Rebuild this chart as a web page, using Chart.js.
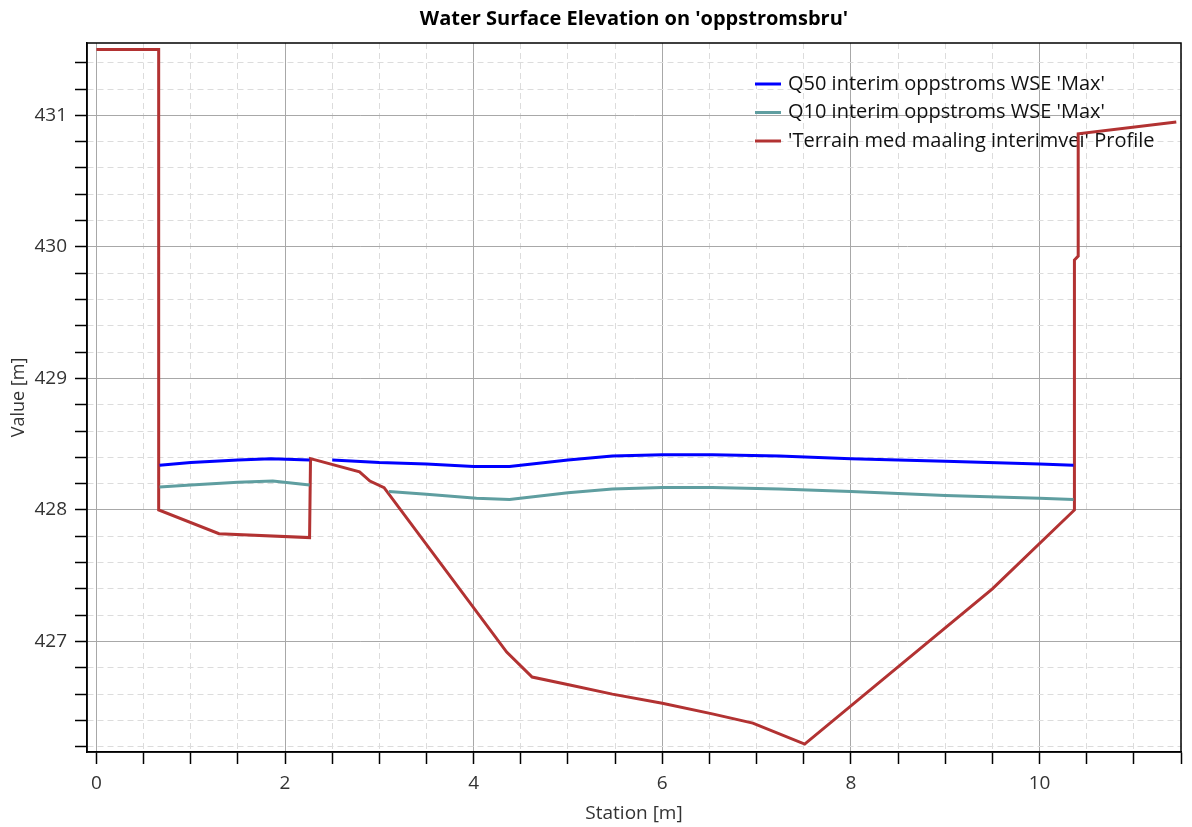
<!DOCTYPE html>
<html>
<head>
<meta charset="utf-8">
<title>Water Surface Elevation</title>
<script src="https://cdn.jsdelivr.net/npm/chart.js@4.4.0/dist/chart.umd.min.js"></script>
<style>
    html, body { margin: 0; padding: 0; background: #ffffff; }
    #wrap { width: 1192px; height: 827px; }
</style>
</head>
<body>
<div id="wrap"><canvas id="wseChart" width="1192" height="827"></canvas></div>
<script>
// Q50 water surface
const q50Station = [0.67, 1.0, 1.5, 1.85, 2.26, null, 2.5, 3.0, 3.5, 4.0, 4.38, 5.0, 5.47, 6.0, 6.53, 7.24, 8.0, 9.0, 10.0, 10.36];
const q50Value   = [428.34, 428.36, 428.38, 428.39, 428.38, null, 428.38, 428.36, 428.35, 428.33, 428.33, 428.38, 428.41, 428.42, 428.42, 428.41, 428.39, 428.37, 428.35, 428.34];

// Q10 water surface
const q10Station = [0.67, 1.0, 1.5, 1.87, 2.26, null, 3.1, 3.5, 4.03, 4.38, 5.0, 5.47, 6.0, 6.53, 7.24, 8.0, 9.0, 10.0, 10.36];
const q10Value   = [428.175, 428.19, 428.21, 428.22, 428.19, null, 428.14, 428.12, 428.09, 428.08, 428.13, 428.16, 428.17, 428.17, 428.16, 428.14, 428.11, 428.09, 428.08];

// Terrain profile
const terrainStation = [0, 0.66, 0.66, 1.3, 2.26, 2.27, 2.79, 2.9, 3.05, 4.35, 4.62, 5.02, 5.47, 6.0, 6.53, 6.96, 7.51, 9.5, 10.37, 10.37, 10.41, 10.41, 11.45];
const terrainValue   = [431.5, 431.5, 428.0, 427.82, 427.79, 428.39, 428.29, 428.22, 428.17, 426.92, 426.73, 426.67, 426.6, 426.53, 426.45, 426.38, 426.22, 427.4, 428.0, 429.9, 429.93, 430.86, 430.95];

const seriesLabels = ["Q50 interim oppstroms WSE 'Max'", "Q10 interim oppstroms WSE 'Max'", "'Terrain med maaling interimvei' Profile"];
const seriesColors = ["#0000ff", "#5f9ea0", "#b23232"];

const xTickValues = [0, 0.5, 1, 1.5, 2, 2.5, 3, 3.5, 4, 4.5, 5, 5.5, 6, 6.5, 7, 7.5, 8, 8.5, 9, 9.5, 10, 10.5, 11, 11.5];
const yTickValues = [426.2, 426.4, 426.6, 426.8, 427, 427.2, 427.4, 427.6, 427.8, 428, 428.2, 428.4, 428.6, 428.8, 429, 429.2, 429.4, 429.6, 429.8, 430, 430.2, 430.4, 430.6, 430.8, 431, 431.2, 431.4];

const FONT = "'Open Sans', 'Noto Sans', sans-serif";

function toPoints(xs, ys){
    return xs.map((x, i) => (x === null ? {x: NaN, y: null} : {x: x, y: ys[i]}));
}

function isMajorX(v){ return Math.abs(v % 2) < 1e-6; }
function isMajorY(v){ return Math.abs(v - Math.round(v)) < 1e-6; }

// frame round the plot area
const framePlugin = {
    id: "frame",
    afterDraw(chart){
        const a = chart.chartArea;
        const ctx = chart.ctx;
        ctx.save();
        ctx.strokeStyle = "#000000";
        ctx.lineWidth = 1.5;
        ctx.strokeRect(a.left, a.top, a.right - a.left, a.bottom - a.top);
        ctx.restore();
    }
};

// legend inside the plot, top right, no box
const insideLegend = {
    id: "insideLegend",
    beforeDatasetsDraw(chart){
        const a = chart.chartArea;
        const ctx = chart.ctx;
        const x0 = a.right - 426;
        let y = a.top + 41;
        ctx.save();
        ctx.font = "20px " + FONT;
        ctx.textBaseline = "middle";
        chart.data.datasets.forEach(ds => {
            ctx.strokeStyle = ds.borderColor;
            ctx.lineWidth = 3;
            ctx.beginPath();
            ctx.moveTo(x0, y);
            ctx.lineTo(x0 + 26, y);
            ctx.stroke();
            ctx.fillStyle = "#111111";
            ctx.fillText(ds.label, x0 + 33, y);
            y += 28.5;
        });
        ctx.restore();
    }
};

const ctx = document.getElementById("wseChart").getContext("2d");

new Chart(ctx, {
    type: "line",
    data: {
        datasets: [
            {
                label: seriesLabels[0],
                data: toPoints(q50Station, q50Value),
                borderColor: seriesColors[0],
                borderWidth: 3,
                pointRadius: 0,
                tension: 0,
                spanGaps: false
            },
            {
                label: seriesLabels[1],
                data: toPoints(q10Station, q10Value),
                borderColor: seriesColors[1],
                borderWidth: 3,
                pointRadius: 0,
                tension: 0,
                spanGaps: false
            },
            {
                label: seriesLabels[2],
                data: toPoints(terrainStation, terrainValue),
                borderColor: seriesColors[2],
                borderWidth: 3,
                pointRadius: 0,
                tension: 0,
                spanGaps: false
            }
        ]
    },
    options: {
        responsive: false,
        animation: false,
        parsing: false,
        layout: { padding: { left: 0, right: 11, top: 0, bottom: 0 } },
        plugins: {
            legend: { display: false },
            tooltip: { enabled: false },
            title: {
                display: true,
                fullSize: false,
                text: "Water Surface Elevation on 'oppstromsbru'",
                color: "#000000",
                font: { family: FONT, size: 20, weight: "bold", lineHeight: 1.2 },
                padding: { top: 7, bottom: 12 }
            }
        },
        scales: {
            x: {
                type: "linear",
                min: -0.1,
                max: 11.5,
                afterBuildTicks: axis => { axis.ticks = xTickValues.map(v => ({value: v})); },
                afterFit: scale => { scale.height = 75; },
                ticks: {
                    color: "#333333",
                    font: { family: FONT, size: 19 },
                    padding: 8,
                    maxRotation: 0,
                    autoSkip: false,
                    callback: v => (isMajorX(v) ? String(v) : "")
                },
                grid: {
                    color: c => (isMajorX(c.tick.value) ? "#a8a8a8" : "#dcdcdc"),
                    lineWidth: 1,
                    tickColor: "#000000",
                    tickLength: 12,
                    tickWidth: 1.5
                },
                border: {
                    color: "#000000",
                    width: 1.5,
                    dash: c => (c.tick && isMajorX(c.tick.value) ? [] : [6, 4])
                },
                title: {
                    display: true,
                    text: "Station [m]",
                    color: "#333333",
                    font: { family: FONT, size: 19 },
                    padding: { top: 0, bottom: 2 }
                }
            },
            y: {
                type: "linear",
                min: 426.16,
                max: 431.55,
                afterBuildTicks: axis => { axis.ticks = yTickValues.map(v => ({value: v})); },
                afterFit: scale => { scale.width = 87; },
                ticks: {
                    color: "#333333",
                    font: { family: FONT, size: 19 },
                    padding: 8,
                    autoSkip: false,
                    callback: v => (isMajorY(v) ? String(Math.round(v)) : "")
                },
                grid: {
                    color: c => (isMajorY(c.tick.value) ? "#a8a8a8" : "#dcdcdc"),
                    lineWidth: 1,
                    tickColor: "#000000",
                    tickLength: 12,
                    tickWidth: 1.5
                },
                border: {
                    color: "#000000",
                    width: 1.5,
                    dash: c => (c.tick && isMajorY(c.tick.value) ? [] : [6, 4])
                },
                title: {
                    display: true,
                    text: "Value [m]",
                    color: "#333333",
                    font: { family: FONT, size: 18 },
                    padding: { top: 8, bottom: 0 }
                }
            }
        }
    },
    plugins: [framePlugin, insideLegend]
});
</script>
</body>
</html>
